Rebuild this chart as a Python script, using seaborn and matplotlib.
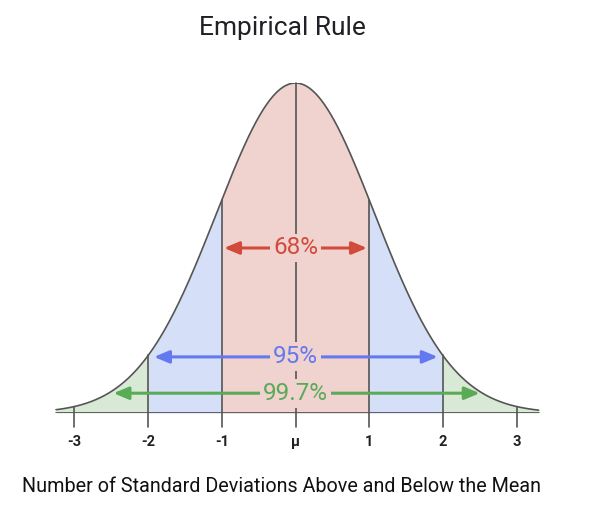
import numpy as np
import pandas as pd
import matplotlib
matplotlib.use("Agg")
import matplotlib.pyplot as plt
import seaborn as sns

# ---- data ----
tick_positions = [-3, -2, -1, 0, 1, 2, 3]
tick_labels = ["-3", "-2", "-1", "μ", "1", "2", "3"]
bands = [(-1, 1), (-2, 2), (-3.25, 3.3)]          # shaded ranges
band_labels = ["68%", "95%", "99.7%"]
arrow_spans = [(-0.97, 0.97), (-1.92, 1.93), (-2.47, 2.5)]
arrow_heights = [0.50, 0.17, 0.06]                 # fraction of peak height
curve_mean = 0.0
curve_spread = 1.07
curve_range = (-3.25, 3.3)

fill_colors = ["#f0d2ce", "#d6dff8", "#d8ead6"]
arrow_colors = ["#d24a3b", "#6479ef", "#5aaa58"]
line_color = "#555555"

sns.set_theme(style="white")
plt.rcParams["font.family"] = ["Roboto", "DejaVu Sans"]

xs = np.linspace(curve_range[0], curve_range[1], 600)
df = pd.DataFrame({"x": xs,
                   "y": np.exp(-(xs - curve_mean) ** 2 / (2 * curve_spread ** 2))})

def curve(v):
    return np.exp(-(np.asarray(v) - curve_mean) ** 2 / (2 * curve_spread ** 2))

fig = plt.figure(figsize=(5.98, 5.13), dpi=100)
x0_px, x1_px = 45, 546
ax = fig.add_axes([x0_px / 598, 1 - 413 / 513, (x1_px - x0_px) / 598, 330 / 513])
ax.set_xlim(-3.4, 3.4)
ax.set_ylim(0, 1)
ax.axis("off")

# fills: outer first
for (lo, hi), col in zip(reversed(bands), reversed(fill_colors)):
    m = (df["x"] >= lo) & (df["x"] <= hi)
    ax.fill_between(df["x"][m], 0, df["y"][m], color=col, lw=0, zorder=1)

sns.lineplot(data=df, x="x", y="y", ax=ax, color=line_color, lw=1.2, zorder=3)
ax.plot(curve_range, [0, 0], color=line_color, lw=1.3, zorder=3)

# vertical lines and ticks
for t in tick_positions:
    ax.plot([t, t], [-0.042, float(curve(t))], color=line_color, lw=1.2,
            zorder=2, clip_on=False)
for t, lab in zip(tick_positions, tick_labels):
    ax.text(t, -0.088, lab, ha="center", va="center", fontsize=10.5,
            fontweight="bold", color="#222222", clip_on=False)

# arrows + labels
for (a, b), h, lab, col in zip(arrow_spans, arrow_heights, band_labels, arrow_colors):
    ax.annotate("", xy=(b, h), xytext=(a, h),
                arrowprops=dict(arrowstyle="<|-|>,head_length=0.5,head_width=0.21",
                                color=col, lw=2.2, shrinkA=0, shrinkB=0,
                                mutation_scale=18),
                zorder=4)
    ax.text(0, h, lab, ha="center", va="center", fontsize=17.5, color=col,
            zorder=5,
            bbox=dict(boxstyle="square,pad=0.12", facecolor=fill_colors[0],
                      edgecolor="none"))

fig.text(282 / 598, 1 - 28 / 513, "Empirical Rule", ha="center", va="center",
         fontsize=19, color="#202124")
fig.text(282 / 598, 1 - 487 / 513, "Number of Standard Deviations Above and Below the Mean",
         ha="center", va="center", fontsize=14.2, color="#111111")

fig.savefig("out.png", dpi=100)
